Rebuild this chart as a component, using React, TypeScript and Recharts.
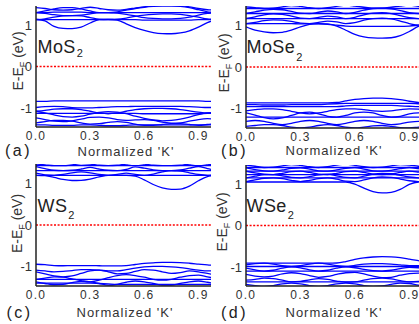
import React from 'react';
import { ComposedChart, Line, XAxis, YAxis, ReferenceLine } from 'recharts';

// k grid (normalized 'K'), shared by every band
const K = [0, 0.05, 0.1, 0.15, 0.2, 0.25, 0.3, 0.35, 0.4, 0.45, 0.5, 0.55, 0.6, 0.65, 0.7, 0.75, 0.8, 0.85, 0.9, 0.95, 1.0];
const X_TICKS = [0, 0.3, 0.6, 0.9];
const Y_TICKS = [-1, 0, 1];
const K_DOMAIN: [number, number] = [0, 0.97];
const E_DOMAIN: [number, number] = [-1.46, 1.46];

// (a) MoS2
const mos2Conduction = [
  [1.14, 1.1, 0.97, 0.92, 0.915, 0.95, 1.05, 1.13, 1.14, 1.12, 1.03, 0.94, 0.87, 0.82, 0.795, 0.79, 0.81, 0.86, 0.95, 1.06, 1.13],
  [1.13, 1.13, 1.13, 1.13, 1.13, 1.13, 1.13, 1.13, 1.13, 1.13, 1.13, 1.13, 1.12, 1.12, 1.12, 1.12, 1.12, 1.12, 1.13, 1.13, 1.13],
  [1.13, 1.15, 1.19, 1.22, 1.23, 1.22, 1.18, 1.14, 1.13, 1.14, 1.17, 1.21, 1.24, 1.26, 1.27, 1.27, 1.26, 1.23, 1.19, 1.15, 1.13],
  [1.3, 1.28, 1.25, 1.23, 1.23, 1.24, 1.27, 1.3, 1.3, 1.29, 1.26, 1.22, 1.18, 1.16, 1.15, 1.15, 1.16, 1.19, 1.24, 1.28, 1.3],
  [1.3, 1.3, 1.31, 1.31, 1.31, 1.31, 1.3, 1.3, 1.3, 1.3, 1.3, 1.3, 1.3, 1.3, 1.3, 1.3, 1.3, 1.3, 1.3, 1.3, 1.3],
  [1.3, 1.34, 1.39, 1.42, 1.42, 1.39, 1.34, 1.3, 1.3, 1.32, 1.36, 1.4, 1.43, 1.45, 1.46, 1.46, 1.45, 1.42, 1.37, 1.32, 1.3],
  [1.42, 1.4, 1.37, 1.36, 1.37, 1.4, 1.43, 1.4, 1.37, 1.36, 1.38, 1.41, 1.44, 1.47, 1.49, 1.49, 1.47, 1.44, 1.4, 1.37, 1.36],
];
const mos2Valence = [
  [-0.84, -0.84, -0.83, -0.83, -0.83, -0.83, -0.83, -0.83, -0.83, -0.83, -0.83, -0.83, -0.83, -0.83, -0.83, -0.83, -0.83, -0.83, -0.83, -0.84, -0.84],
  [-0.99, -0.97, -0.96, -0.97, -0.99, -1.0, -1.0, -0.99, -0.98, -0.97, -0.97, -0.96, -0.96, -0.96, -0.96, -0.96, -0.96, -0.97, -0.98, -0.99, -0.99],
  [-1.08, -1.06, -1.03, -1.02, -1.02, -1.04, -1.08, -1.12, -1.14, -1.12, -1.08, -1.04, -1.02, -1.01, -1.01, -1.02, -1.04, -1.07, -1.1, -1.12, -1.12],
  [-1.08, -1.12, -1.17, -1.21, -1.22, -1.2, -1.15, -1.11, -1.09, -1.1, -1.14, -1.2, -1.25, -1.29, -1.31, -1.3, -1.27, -1.22, -1.16, -1.12, -1.11],
  [-1.13, -1.13, -1.13, -1.13, -1.13, -1.13, -1.13, -1.13, -1.13, -1.13, -1.13, -1.13, -1.14, -1.14, -1.14, -1.14, -1.14, -1.14, -1.14, -1.13, -1.13],
  [-1.24, -1.28, -1.32, -1.33, -1.31, -1.27, -1.23, -1.22, -1.24, -1.28, -1.3, -1.29, -1.28, -1.3, -1.34, -1.37, -1.36, -1.32, -1.28, -1.26, -1.27],
  [-1.36, -1.33, -1.3, -1.3, -1.32, -1.36, -1.39, -1.38, -1.35, -1.33, -1.35, -1.39, -1.42, -1.42, -1.4, -1.38, -1.38, -1.4, -1.42, -1.4, -1.37],
  [-1.41, -1.41, -1.42, -1.42, -1.42, -1.41, -1.41, -1.42, -1.43, -1.43, -1.42, -1.41, -1.41, -1.41, -1.41, -1.41, -1.41, -1.41, -1.41, -1.41, -1.41],
];

// (b) MoSe2
const mose2Conduction = [
  [0.96, 0.88, 0.84, 0.82, 0.83, 0.88, 0.96, 1.02, 1.04, 1.03, 0.98, 0.88, 0.78, 0.72, 0.695, 0.69, 0.7, 0.75, 0.85, 0.97, 1.03],
  [1.03, 1.04, 1.04, 1.04, 1.04, 1.04, 1.03, 1.03, 1.03, 1.02, 1.0, 0.98, 0.97, 0.97, 0.97, 0.97, 0.97, 0.97, 0.98, 1.0, 1.02],
  [1.04, 1.07, 1.11, 1.13, 1.12, 1.09, 1.05, 1.04, 1.07, 1.1, 1.08, 1.04, 1.06, 1.12, 1.16, 1.17, 1.15, 1.1, 1.04, 1.0, 1.02],
  [1.16, 1.16, 1.16, 1.16, 1.16, 1.16, 1.16, 1.16, 1.16, 1.16, 1.16, 1.16, 1.16, 1.16, 1.16, 1.16, 1.16, 1.16, 1.16, 1.16, 1.16],
  [1.16, 1.2, 1.25, 1.27, 1.26, 1.22, 1.17, 1.16, 1.19, 1.22, 1.2, 1.16, 1.19, 1.25, 1.29, 1.3, 1.28, 1.23, 1.18, 1.16, 1.18],
  [1.28, 1.28, 1.28, 1.28, 1.28, 1.28, 1.28, 1.28, 1.28, 1.28, 1.28, 1.28, 1.28, 1.28, 1.28, 1.28, 1.28, 1.28, 1.28, 1.28, 1.28],
  [1.28, 1.32, 1.36, 1.38, 1.37, 1.33, 1.29, 1.28, 1.31, 1.34, 1.32, 1.28, 1.31, 1.36, 1.4, 1.41, 1.39, 1.35, 1.3, 1.28, 1.3],
  [1.4, 1.4, 1.4, 1.4, 1.4, 1.4, 1.4, 1.4, 1.4, 1.4, 1.4, 1.4, 1.4, 1.4, 1.4, 1.4, 1.4, 1.4, 1.4, 1.4, 1.4],
  [1.44, 1.42, 1.4, 1.41, 1.44, 1.47, 1.45, 1.42, 1.4, 1.42, 1.45, 1.48, 1.46, 1.43, 1.41, 1.41, 1.43, 1.46, 1.48, 1.45, 1.42],
];
const mose2Valence = [
  [-0.86, -0.86, -0.86, -0.86, -0.86, -0.86, -0.86, -0.86, -0.86, -0.86, -0.85, -0.81, -0.775, -0.755, -0.745, -0.745, -0.755, -0.78, -0.82, -0.85, -0.86],
  [-0.9, -0.9, -0.91, -0.91, -0.91, -0.9, -0.9, -0.9, -0.9, -0.89, -0.88, -0.87, -0.87, -0.87, -0.87, -0.87, -0.87, -0.87, -0.87, -0.88, -0.89],
  [-0.95, -0.95, -0.95, -0.95, -0.95, -0.95, -0.95, -0.95, -0.95, -0.95, -0.95, -0.93, -0.92, -0.92, -0.92, -0.92, -0.92, -0.93, -0.94, -0.95, -0.95],
  [-1.05, -1.02, -1.0, -1.0, -1.02, -1.06, -1.1, -1.12, -1.1, -1.06, -1.02, -1.0, -1.0, -1.02, -1.05, -1.06, -1.05, -1.02, -1.0, -1.01, -1.04],
  [-1.1, -1.15, -1.21, -1.24, -1.22, -1.16, -1.1, -1.08, -1.12, -1.18, -1.2, -1.16, -1.1, -1.08, -1.1, -1.16, -1.2, -1.18, -1.12, -1.1, -1.12],
  [-1.2, -1.2, -1.2, -1.2, -1.2, -1.2, -1.2, -1.2, -1.2, -1.2, -1.2, -1.2, -1.2, -1.2, -1.2, -1.2, -1.2, -1.2, -1.2, -1.2, -1.2],
  [-1.3, -1.28, -1.3, -1.35, -1.38, -1.35, -1.3, -1.28, -1.3, -1.35, -1.38, -1.35, -1.3, -1.28, -1.3, -1.35, -1.38, -1.36, -1.32, -1.3, -1.31],
  [-1.42, -1.4, -1.38, -1.38, -1.4, -1.44, -1.46, -1.44, -1.4, -1.38, -1.4, -1.44, -1.46, -1.44, -1.41, -1.4, -1.42, -1.45, -1.46, -1.44, -1.42],
];

// (c) WS2
const ws2Conduction = [
  [1.19, 1.18, 1.14, 1.09, 1.065, 1.07, 1.1, 1.15, 1.19, 1.19, 1.19, 1.17, 1.08, 0.97, 0.89, 0.855, 0.86, 0.93, 1.06, 1.16, 1.19],
  [1.19, 1.19, 1.19, 1.19, 1.19, 1.19, 1.19, 1.19, 1.19, 1.19, 1.19, 1.19, 1.19, 1.19, 1.19, 1.19, 1.19, 1.19, 1.19, 1.19, 1.19],
  [1.24, 1.2, 1.19, 1.21, 1.25, 1.27, 1.25, 1.21, 1.19, 1.21, 1.24, 1.21, 1.19, 1.22, 1.27, 1.3, 1.29, 1.25, 1.21, 1.19, 1.21],
  [1.3, 1.3, 1.3, 1.3, 1.3, 1.3, 1.3, 1.3, 1.3, 1.3, 1.3, 1.3, 1.3, 1.3, 1.3, 1.3, 1.3, 1.3, 1.3, 1.3, 1.3],
  [1.4, 1.35, 1.31, 1.3, 1.31, 1.34, 1.38, 1.34, 1.31, 1.3, 1.33, 1.39, 1.36, 1.32, 1.3, 1.3, 1.32, 1.36, 1.4, 1.35, 1.31],
  [1.42, 1.42, 1.42, 1.42, 1.42, 1.42, 1.42, 1.42, 1.42, 1.42, 1.42, 1.42, 1.42, 1.42, 1.42, 1.42, 1.42, 1.42, 1.42, 1.42, 1.42],
  [1.46, 1.44, 1.42, 1.42, 1.44, 1.47, 1.46, 1.43, 1.42, 1.43, 1.46, 1.48, 1.46, 1.43, 1.42, 1.42, 1.43, 1.46, 1.48, 1.46, 1.43],
];
const ws2Valence = [
  [-0.94, -0.95, -0.97, -0.975, -0.97, -0.97, -0.97, -0.975, -0.98, -0.98, -0.97, -0.945, -0.92, -0.905, -0.895, -0.895, -0.9, -0.915, -0.935, -0.955, -0.97],
  [-1.08, -1.1, -1.12, -1.11, -1.09, -1.07, -1.07, -1.08, -1.1, -1.1, -1.07, -1.03, -1.0, -0.99, -0.99, -1.0, -1.02, -1.05, -1.08, -1.1, -1.1],
  [-1.12, -1.17, -1.22, -1.24, -1.22, -1.16, -1.1, -1.08, -1.12, -1.17, -1.16, -1.11, -1.07, -1.08, -1.12, -1.16, -1.14, -1.1, -1.12, -1.16, -1.2],
  [-1.3, -1.27, -1.24, -1.25, -1.29, -1.33, -1.36, -1.32, -1.26, -1.21, -1.19, -1.21, -1.25, -1.3, -1.32, -1.3, -1.25, -1.21, -1.2, -1.24, -1.28],
  [-1.3, -1.3, -1.3, -1.3, -1.3, -1.3, -1.3, -1.3, -1.3, -1.3, -1.3, -1.3, -1.3, -1.3, -1.3, -1.3, -1.3, -1.3, -1.3, -1.3, -1.3],
  [-1.36, -1.4, -1.43, -1.42, -1.38, -1.35, -1.36, -1.4, -1.44, -1.42, -1.37, -1.34, -1.36, -1.4, -1.44, -1.44, -1.4, -1.36, -1.34, -1.37, -1.41],
  [-1.39, -1.39, -1.39, -1.39, -1.39, -1.39, -1.39, -1.4, -1.41, -1.42, -1.42, -1.42, -1.42, -1.42, -1.42, -1.42, -1.42, -1.42, -1.42, -1.42, -1.42],
];

// (d) WSe2
const wse2Conduction = [
  [1.05, 1.05, 1.05, 1.05, 1.05, 1.05, 1.05, 1.05, 1.05, 1.05, 1.05, 1.05, 1.0, 0.9, 0.82, 0.785, 0.8, 0.87, 0.99, 1.05, 1.06],
  [1.06, 1.1, 1.14, 1.15, 1.13, 1.09, 1.06, 1.09, 1.13, 1.15, 1.12, 1.07, 1.06, 1.1, 1.15, 1.17, 1.16, 1.12, 1.08, 1.06, 1.08],
  [1.15, 1.15, 1.15, 1.15, 1.15, 1.15, 1.15, 1.15, 1.15, 1.15, 1.15, 1.15, 1.15, 1.15, 1.15, 1.15, 1.15, 1.15, 1.15, 1.15, 1.15],
  [1.15, 1.19, 1.23, 1.23, 1.2, 1.16, 1.15, 1.18, 1.22, 1.24, 1.2, 1.16, 1.15, 1.19, 1.24, 1.26, 1.25, 1.21, 1.17, 1.15, 1.17],
  [1.23, 1.23, 1.23, 1.23, 1.23, 1.23, 1.23, 1.23, 1.23, 1.23, 1.23, 1.23, 1.23, 1.23, 1.23, 1.23, 1.23, 1.23, 1.23, 1.23, 1.23],
  [1.31, 1.27, 1.24, 1.23, 1.26, 1.3, 1.31, 1.28, 1.24, 1.23, 1.26, 1.3, 1.31, 1.28, 1.24, 1.23, 1.24, 1.28, 1.31, 1.29, 1.26],
  [1.31, 1.31, 1.31, 1.31, 1.31, 1.31, 1.31, 1.31, 1.31, 1.31, 1.31, 1.31, 1.31, 1.31, 1.31, 1.31, 1.31, 1.31, 1.31, 1.31, 1.31],
  [1.39, 1.35, 1.32, 1.31, 1.34, 1.38, 1.39, 1.36, 1.32, 1.31, 1.34, 1.38, 1.4, 1.36, 1.32, 1.31, 1.33, 1.37, 1.4, 1.37, 1.33],
  [1.4, 1.4, 1.4, 1.4, 1.4, 1.4, 1.4, 1.4, 1.4, 1.4, 1.4, 1.4, 1.4, 1.4, 1.4, 1.4, 1.4, 1.4, 1.4, 1.4, 1.4],
  [1.46, 1.43, 1.4, 1.41, 1.44, 1.47, 1.45, 1.42, 1.4, 1.42, 1.46, 1.48, 1.45, 1.42, 1.4, 1.41, 1.44, 1.47, 1.46, 1.43, 1.41],
];
const wse2Valence = [
  [-0.91, -0.91, -0.91, -0.91, -0.91, -0.91, -0.91, -0.91, -0.91, -0.91, -0.905, -0.87, -0.82, -0.78, -0.76, -0.75, -0.755, -0.775, -0.81, -0.85, -0.89],
  [-0.95, -0.92, -0.91, -0.93, -0.97, -0.99, -0.97, -0.93, -0.91, -0.93, -0.97, -0.99, -0.96, -0.93, -0.92, -0.92, -0.93, -0.95, -0.97, -0.97, -0.95],
  [-0.99, -0.99, -0.99, -0.99, -0.99, -0.99, -0.99, -0.99, -0.99, -0.99, -0.99, -0.99, -0.99, -0.99, -0.99, -0.99, -0.99, -0.99, -0.99, -0.99, -0.99],
  [-1.03, -1.07, -1.1, -1.08, -1.03, -1.0, -1.02, -1.07, -1.1, -1.08, -1.03, -1.0, -1.02, -1.06, -1.09, -1.1, -1.08, -1.04, -1.01, -1.02, -1.05],
  [-1.1, -1.1, -1.1, -1.1, -1.1, -1.1, -1.1, -1.1, -1.1, -1.1, -1.1, -1.1, -1.1, -1.1, -1.1, -1.1, -1.1, -1.1, -1.1, -1.1, -1.1],
  [-1.18, -1.22, -1.24, -1.22, -1.17, -1.14, -1.16, -1.21, -1.25, -1.23, -1.18, -1.14, -1.13, -1.17, -1.22, -1.26, -1.25, -1.2, -1.16, -1.15, -1.18],
  [-1.32, -1.3, -1.27, -1.28, -1.32, -1.36, -1.35, -1.31, -1.28, -1.3, -1.34, -1.37, -1.36, -1.32, -1.28, -1.27, -1.29, -1.33, -1.36, -1.35, -1.32],
  [-1.36, -1.36, -1.36, -1.36, -1.36, -1.36, -1.36, -1.36, -1.36, -1.36, -1.36, -1.36, -1.36, -1.36, -1.36, -1.36, -1.36, -1.36, -1.36, -1.36, -1.36],
  [-1.42, -1.45, -1.47, -1.45, -1.41, -1.39, -1.41, -1.45, -1.47, -1.45, -1.41, -1.39, -1.41, -1.45, -1.47, -1.46, -1.42, -1.39, -1.4, -1.44, -1.46],
];

const FONT = '"Liberation Sans", Arial, Helvetica, sans-serif';
const TEXT = '#333';
const FRAME = '#222';

type PanelProps = {
  bands: number[][];
  left: number;
  top: number;
  width: number;
  height: number;
  marginTop: number;
  xAxisHeight: number;
};

function Panel({ bands, left, top, width, height, marginTop, xAxisHeight }: PanelProps) {
  const data = K.map((k, i) => {
    const row: Record<string, number> = { k };
    bands.forEach((b, j) => {
      row['b' + j] = b[i];
    });
    return row;
  });
  const tickStyle = { fontSize: 12, fill: TEXT, fontFamily: FONT, letterSpacing: 1.2 };
  const frame = { stroke: FRAME, strokeWidth: 1.5 };
  return (
    <div style={{ position: 'absolute', left, top }}>
      <ComposedChart width={width} height={height} data={data} margin={{ top: marginTop, right: 1, bottom: 0, left: 0 }}>
        <ReferenceLine y={0} stroke="#ff0000" strokeWidth={1.3} strokeDasharray="2 1.6" />
        {bands.map((_, j) => (
          <Line
            key={j}
            dataKey={'b' + j}
            type="monotone"
            stroke="#0000ff"
            strokeWidth={1.3}
            dot={false}
            activeDot={false}
            isAnimationActive={false}
          />
        ))}
        <XAxis
          dataKey="k"
          type="number"
          domain={K_DOMAIN}
          ticks={X_TICKS}
          interval={0}
          allowDataOverflow
          height={xAxisHeight}
          tickLine={false}
          tickSize={0}
          tickMargin={4}
          tickFormatter={(v: number) => v.toFixed(1)}
          axisLine={frame}
          tick={tickStyle}
        />
        <XAxis
          xAxisId="top"
          orientation="top"
          dataKey="k"
          type="number"
          domain={K_DOMAIN}
          allowDataOverflow
          height={0}
          tick={false}
          tickLine={false}
          axisLine={frame}
        />
        <YAxis
          type="number"
          domain={E_DOMAIN}
          ticks={Y_TICKS}
          interval={0}
          allowDataOverflow
          width={36}
          tickLine={false}
          tickSize={0}
          tickMargin={4}
          axisLine={frame}
          tick={{ fontSize: 13, fill: TEXT, fontFamily: FONT }}
        />
        <YAxis
          yAxisId="right"
          orientation="right"
          type="number"
          domain={E_DOMAIN}
          allowDataOverflow
          width={0}
          tick={false}
          tickLine={false}
          axisLine={frame}
        />
      </ComposedChart>
    </div>
  );
}

function YLabel({ x, y }: { x: number; y: number }) {
  return (
    <text transform={`translate(${x},${y}) rotate(-90)`} textAnchor="middle" fontSize={14} fill={TEXT} fontFamily={FONT}>
      E-E
      <tspan fontSize={9} dy={3}>F</tspan>
      <tspan dy={-3}> (eV)</tspan>
    </text>
  );
}

function XLabel({ x, y }: { x: number; y: number }) {
  return (
    <text x={x} y={y} textAnchor="middle" fontSize={13} letterSpacing={1} fill={TEXT} fontFamily={FONT}>
      Normalized 'K'
    </text>
  );
}

function Tag({ x, y, text }: { x: number; y: number; text: string }) {
  return (
    <text x={x} y={y} fontSize={16} letterSpacing={2.5} fill="#222" fontFamily={FONT}>
      {text}
    </text>
  );
}

function Material({ x, y, main, sub, subDy }: { x: number; y: number; main: string; sub: string; subDy: number }) {
  return (
    <text x={x} y={y} fontSize={18} letterSpacing={0.4} fill="#222" fontFamily={FONT}>
      {main}
      <tspan fontSize={11} dx={1} dy={subDy}>{sub}</tspan>
    </text>
  );
}

export default function App() {
  return (
    <div
      style={{
        position: 'fixed',
        left: 0,
        top: 0,
        width: 419,
        height: 324,
        overflow: 'hidden',
        background: '#fff',
        fontFamily: FONT,
      }}
    >
      <Panel bands={[...mos2Conduction, ...mos2Valence]} left={0} top={0} width={212} height={162} marginTop={6} xAxisHeight={35} />
      <Panel bands={[...mose2Conduction, ...mose2Valence]} left={210} top={0} width={213} height={162} marginTop={6} xAxisHeight={34} />
      <Panel bands={[...ws2Conduction, ...ws2Valence]} left={0} top={158} width={212} height={166} marginTop={6} xAxisHeight={38} />
      <Panel bands={[...wse2Conduction, ...wse2Valence]} left={210} top={158} width={213} height={166} marginTop={7} xAxisHeight={38} />
      <svg width={419} height={324} style={{ position: 'absolute', left: 0, top: 0, pointerEvents: 'none' }}>
        <YLabel x={23.3} y={61} />
        <YLabel x={228.5} y={63} />
        <YLabel x={21.5} y={223.5} />
        <YLabel x={227} y={222} />
        <XLabel x={126} y={155.5} />
        <XLabel x={334} y={155} />
        <XLabel x={125} y={316.5} />
        <XLabel x={334} y={316.5} />
        <Tag x={5} y={155.5} text="(a)" />
        <Tag x={221} y={156} text="(b)" />
        <Tag x={6.5} y={317.5} text="(c)" />
        <Tag x={221} y={318} text="(d)" />
        <Material x={37.5} y={53.3} main="MoS" sub="2" subDy={3.7} />
        <Material x={246.5} y={53.3} main="MoSe" sub="2" subDy={8} />
        <Material x={37.5} y={212} main="WS" sub="2" subDy={6.5} />
        <Material x={246.5} y={212} main="WSe" sub="2" subDy={6.5} />
      </svg>
    </div>
  );
}
